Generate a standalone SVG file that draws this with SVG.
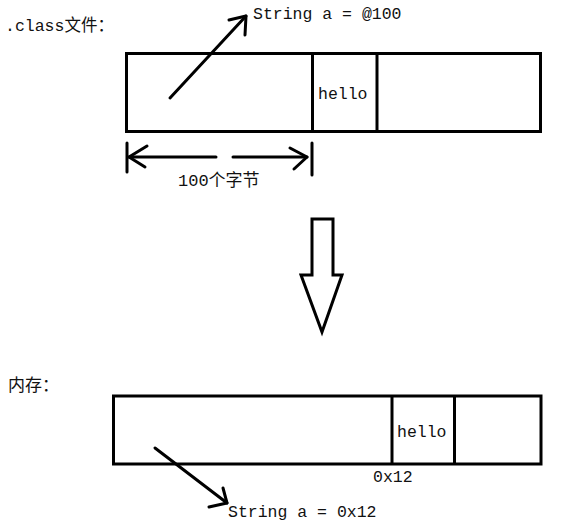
<svg xmlns="http://www.w3.org/2000/svg" width="567" height="529" viewBox="0 0 567 529">
<style>
.box{fill:none;stroke:#000;stroke-width:3}
.ln{fill:none;stroke:#000;stroke-width:3;stroke-linecap:round;stroke-linejoin:round}
.t{font-family:"Liberation Mono","Noto Sans CJK SC",monospace;font-size:16.5px;fill:#111}
</style>
<rect width="567" height="529" fill="#fff"/>
<text class="t" x="5" y="31">.class文件：</text>
<text class="t" x="8" y="391" style="font-size:17px">内存：</text>
<g id="classfile">
<rect class="box" x="126.5" y="53.5" width="414" height="78"/>
<line class="box" x1="312.5" y1="53" x2="312.5" y2="131"/>
<line class="box" x1="377" y1="53" x2="377" y2="131"/>
<text class="t" x="318" y="99">hello</text>
</g>
<g id="memory">
<rect class="box" x="113.5" y="396" width="427.5" height="68"/>
<line class="box" x1="392" y1="396" x2="392" y2="464"/>
<line class="box" x1="454.5" y1="396" x2="454.5" y2="464"/>
<text class="t" x="397" y="437">hello</text>
<text class="t" x="373" y="482">0x12</text>
</g>
<g id="label-top"><text class="t" x="253" y="19">String a = @100</text></g>
<g id="label-bottom"><text class="t" x="228" y="517">String a = 0x12</text></g>
<g id="dimension">
<line class="ln" x1="127" y1="143" x2="127" y2="172"/>
<line class="ln" x1="312" y1="143" x2="312" y2="175"/>
<text class="t" x="178" y="186" style="font-size:17px">100个字节</text>
</g>
<g id="big-arrow">
<polygon points="312,219 333,219 333,275 342,275 322,332 301,275 312,275" fill="#fff" stroke="#000" stroke-width="3" stroke-linejoin="miter"/>
</g>
<g id="connectors">
<line class="ln" x1="170" y1="98" x2="246" y2="16"/>
<polyline class="ln" points="229,20 246,16 245,35"/>
<line class="ln" x1="155" y1="448" x2="227" y2="503"/>
<polyline class="ln" points="223,488 227,503 209,507"/>
<line class="ln" x1="129" y1="157" x2="216" y2="157"/>
<polyline class="ln" points="147,146 129,157 145,167"/>
<line class="ln" x1="233" y1="157" x2="307" y2="157"/>
<polyline class="ln" points="290,148 307,157 294,169"/>
</g>
</svg>
